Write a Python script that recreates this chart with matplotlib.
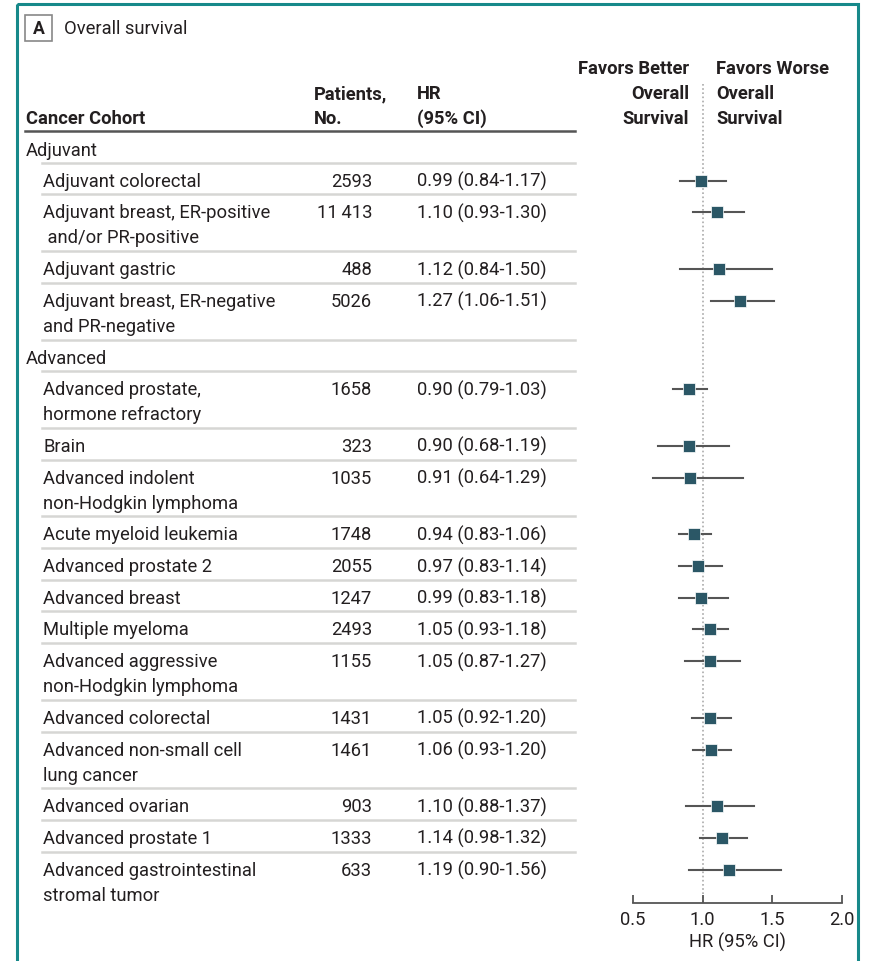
import matplotlib
matplotlib.use("Agg")
import matplotlib.pyplot as plt
from matplotlib.patches import Rectangle

plt.rcParams['font.family'] = ['Roboto', 'DejaVu Sans']

# ---------------------------------------------------------------- data
groups = ["Adjuvant", "Advanced"]
cohorts = [
    ["Adjuvant colorectal"],
    ["Adjuvant breast, ER-positive", " and/or PR-positive"],
    ["Adjuvant gastric"],
    ["Adjuvant breast, ER-negative", "and PR-negative"],
    ["Advanced prostate,", "hormone refractory"],
    ["Brain"],
    ["Advanced indolent", "non-Hodgkin lymphoma"],
    ["Acute myeloid leukemia"],
    ["Advanced prostate 2"],
    ["Advanced breast"],
    ["Multiple myeloma"],
    ["Advanced aggressive", "non-Hodgkin lymphoma"],
    ["Advanced colorectal"],
    ["Advanced non-small cell", "lung cancer"],
    ["Advanced ovarian"],
    ["Advanced prostate 1"],
    ["Advanced gastrointestinal", "stromal tumor"],
]
cohort_group = [0, 0, 0, 0, 1, 1, 1, 1, 1, 1, 1, 1, 1, 1, 1, 1, 1]
patients = ["2593", "11\u2009413", "488", "5026", "1658", "323", "1035", "1748",
            "2055", "1247", "2493", "1155", "1431", "1461", "903", "1333", "633"]
hr = [0.99, 1.10, 1.12, 1.27, 0.90, 0.90, 0.91, 0.94, 0.97, 0.99, 1.05, 1.05,
      1.05, 1.06, 1.10, 1.14, 1.19]
hr_lo = [0.84, 0.93, 0.84, 1.06, 0.79, 0.68, 0.64, 0.83, 0.83, 0.83, 0.93, 0.87,
         0.92, 0.93, 0.88, 0.98, 0.90]
hr_hi = [1.17, 1.30, 1.50, 1.51, 1.03, 1.19, 1.29, 1.06, 1.14, 1.18, 1.18, 1.27,
         1.20, 1.20, 1.37, 1.32, 1.56]
xticks = [0.5, 1.0, 1.5, 2.0]

# ---------------------------------------------------------------- style
W, H = 871, 962
txt = '#231f20'
teal = '#17898a'
mark = '#2b5766'
fs = 13.2
ROW = 31.7
LINE = 25

fig = plt.figure(figsize=(W / 100, H / 100), dpi=100)
bg = fig.add_axes([0, 0, 1, 1])
bg.set_xlim(0, W)
bg.set_ylim(H, 0)
bg.axis('off')

# frame
bg.add_patch(Rectangle((17, 5), 841, 1000, fill=False, ec=teal, lw=2.2, clip_on=False))
bg.add_patch(Rectangle((25, 16), 27, 26, fill=False, ec='#888888', lw=1.2))
bg.text(38.5, 29.5, "A", ha='center', va='center', fontsize=fs - 0.5, fontweight='bold', color=txt)
bg.text(64, 29.5, "Overall survival", ha='left', va='center', fontsize=fs, color=txt)

# headers
bg.text(26, 119, "Cancer Cohort", ha='left', va='center', fontsize=fs, fontweight='bold', color=txt)
bg.text(314, 94, "Patients,", ha='left', va='center', fontsize=fs, fontweight='bold', color=txt)
bg.text(314, 119, "No.", ha='left', va='center', fontsize=fs, fontweight='bold', color=txt)
bg.text(417, 94, "HR", ha='left', va='center', fontsize=fs, fontweight='bold', color=txt)
bg.text(417, 119, "(95% CI)", ha='left', va='center', fontsize=fs, fontweight='bold', color=txt)
for i, s in enumerate(["Favors Better", "Overall", "Survival"]):
    bg.text(689, 69 + LINE * i, s, ha='right', va='center', fontsize=fs, fontweight='bold', color=txt)
for i, s in enumerate(["Favors Worse", "Overall", "Survival"]):
    bg.text(716, 69 + LINE * i, s, ha='left', va='center', fontsize=fs, fontweight='bold', color=txt)
bg.plot([25, 575], [132, 132], color='#555555', lw=1.8)

# table rows
y = 132
row_y = []
for k in range(len(cohorts)):
    if k == 0 or cohort_group[k] != cohort_group[k - 1]:
        if k > 0:
            bg.plot([42, 575], [y, y], color='#d6d6d4', lw=1.8)
        bg.text(26, y + 19, groups[cohort_group[k]], ha='left', va='center', fontsize=fs, color=txt)
        y += ROW
        bg.plot([42, 575], [y, y], color='#d6d6d4', lw=1.8)
    elif k > 0:
        bg.plot([42, 575], [y, y], color='#d6d6d4', lw=1.8)
    yc = y + 18
    row_y.append(yc)
    for i, s in enumerate(cohorts[k]):
        bg.text(43, yc + LINE * i, s, ha='left', va='center', fontsize=fs, color=txt)
    bg.text(372, yc, patients[k], ha='right', va='center', fontsize=fs, color=txt)
    bg.text(417, yc, "%.2f (%.2f-%.2f)" % (hr[k], hr_lo[k], hr_hi[k]),
            ha='left', va='center', fontsize=fs, color=txt)
    y += ROW + LINE * (len(cohorts[k]) - 1)

# forest panel
x0, x1 = 633, 842
ytop, ybot = 55, 904
ax = fig.add_axes([x0 / W, 1 - ybot / H, (x1 - x0) / W, (ybot - ytop) / H])
ax.set_xlim(0.5, 2.0)
ax.set_ylim(ybot, ytop)
ax.patch.set_alpha(0)
for sp in ['top', 'right', 'left']:
    ax.spines[sp].set_visible(False)
ax.spines['bottom'].set_color('#555555')
ax.spines['bottom'].set_linewidth(1.3)
ax.set_yticks([])
ax.set_xticks(xticks)
ax.set_xticklabels(["%.1f" % t for t in xticks])
ax.tick_params(axis='x', direction='in', length=6, width=1.3, color='#555555',
               labelsize=fs, labelcolor=txt, pad=5)
ax.set_xlabel("HR (95% CI)", fontsize=fs, color=txt, labelpad=3)
ax.plot([1.0, 1.0], [85, ybot], color='#aaaaaa', lw=1.2, ls=(0, (1, 1.5)), zorder=1)
for k in range(len(hr)):
    ax.plot([hr_lo[k], hr_hi[k]], [row_y[k], row_y[k]], color='#555555', lw=1.5, zorder=2)
    ax.plot(hr[k], row_y[k], marker='s', ms=8, color=mark, mec='white', mew=0.5, zorder=3)

fig.savefig("out.png", dpi=100)
